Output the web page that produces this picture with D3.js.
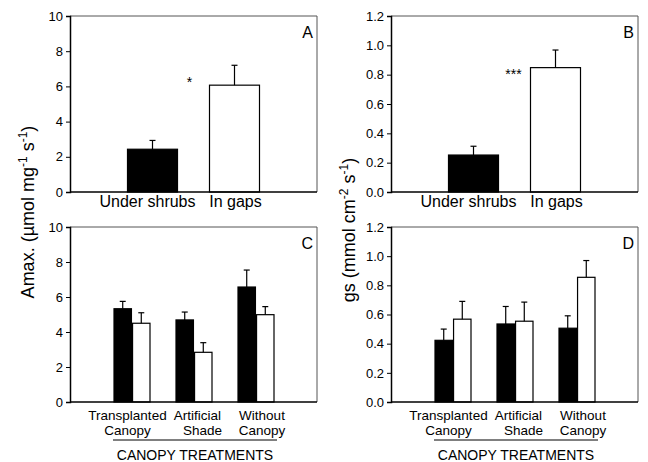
<!DOCTYPE html>
<html><head><meta charset="utf-8">
<script src="https://cdn.jsdelivr.net/npm/d3@7"></script>
<style>
body{margin:0;background:#fff;}
svg{display:block;font-family:Arial,"Liberation Sans",sans-serif;}
</style></head>
<body>
<svg id="chart" width="648" height="462"></svg>
<script>
// ---- data ----
const siteCats = ["Under shrubs", "In gaps"];
const amaxSite = [2.43, 6.07];
const amaxSiteErr = [0.50, 1.13];
const gsSite = [0.252, 0.848];
const gsSiteErr = [0.06, 0.12];

const treatments = ["Transplanted Canopy", "Artificial Shade", "Without Canopy"];
const treatmentLines = [["Transplanted", "Canopy"], ["Artificial", "Shade"], ["Without", "Canopy"]];
const amaxUnder = [5.33, 4.69, 6.57];
const amaxUnderErr = [0.42, 0.45, 0.97];
const amaxGaps = [4.50, 2.84, 4.99];
const amaxGapsErr = [0.60, 0.55, 0.46];
const gsUnder = [0.423, 0.535, 0.506];
const gsUnderErr = [0.077, 0.12, 0.085];
const gsGaps = [0.568, 0.554, 0.855];
const gsGapsErr = [0.122, 0.131, 0.115];

const amaxTicks = [0, 2, 4, 6, 8, 10];
const gsTicks = [0, 0.2, 0.4, 0.6, 0.8, 1.0, 1.2];
const panelLetters = ["A", "B", "C", "D"];
const sigMarks = ["*", "***"];

// ---- layout ----
const svg = d3.select("#chart");
const W = 247;
const lefts = [70, 391];
const rows = [{top: 16, bottom: 192}, {top: 227, bottom: 402}];

function frame(g, left, top, bottom) {
  g.append("line").attr("x1", left).attr("x2", left + W).attr("y1", top).attr("y2", top)
    .attr("stroke", "#555").attr("stroke-width", 1);
  g.append("line").attr("x1", left + W).attr("x2", left + W).attr("y1", top).attr("y2", bottom)
    .attr("stroke", "#555").attr("stroke-width", 1);
  g.append("line").attr("x1", left).attr("x2", left + W).attr("y1", bottom).attr("y2", bottom)
    .attr("stroke", "#000").attr("stroke-width", 1.5);
}

function yAxis(g, y, left, ticks, fmt) {
  const ax = g.append("g").attr("transform", `translate(${left},0)`)
    .call(d3.axisLeft(y).tickValues(ticks).tickFormat(fmt).tickSize(4).tickPadding(3));
  ax.select(".domain").attr("stroke", "#000").attr("stroke-width", 1.5);
  ax.selectAll(".tick line").attr("stroke", "#000");
  ax.selectAll("text").attr("font-size", 13).attr("fill", "#000")
    .attr("font-family", "Arial, 'Liberation Sans', sans-serif");
}

function errBar(g, x, yTop, yErr) {
  g.append("line").attr("x1", x).attr("x2", x).attr("y1", yTop).attr("y2", yErr)
    .attr("stroke", "#000").attr("stroke-width", 1.2);
  g.append("line").attr("x1", x - 3).attr("x2", x + 3).attr("y1", yErr).attr("y2", yErr)
    .attr("stroke", "#000").attr("stroke-width", 1.2);
}

// ---- top panels ----
function topPanel(idx, vals, errs, domainMax, ticks, fmt, sig, sigVal, sigDx) {
  const left = lefts[idx], top = rows[0].top, bottom = rows[0].bottom;
  const g = svg.append("g");
  const y = d3.scaleLinear().domain([0, domainMax]).range([bottom, top]);
  const x = d3.scalePoint().domain(siteCats).range([left + 82.5, left + 164.5]);
  const bw = 50;
  siteCats.forEach((c, i) => {
    g.append("rect").attr("x", x(c) - bw / 2).attr("width", bw)
      .attr("y", y(vals[i])).attr("height", y(0) - y(vals[i]))
      .attr("fill", i === 0 ? "#000" : "#fff").attr("stroke", "#000").attr("stroke-width", 1.2);
    errBar(g, x(c), y(vals[i]), y(vals[i] + errs[i]));
  });
  frame(g, left, top, bottom);
  yAxis(g, y, left, ticks, fmt);
  const labDx = [-5, 1];
  siteCats.forEach((c, i) => {
    g.append("text").attr("x", x(c) + labDx[i]).attr("y", 207).attr("text-anchor", "middle")
      .attr("font-size", 16).text(c);
  });
  g.append("text").attr("x", (x(siteCats[0]) + x(siteCats[1])) / 2 + sigDx).attr("y", y(sigVal))
    .attr("text-anchor", "middle").attr("font-size", 14).text(sig);
  g.append("text").attr("x", left + W - 4).attr("y", top + 22).attr("text-anchor", "end")
    .attr("font-size", 16).text(panelLetters[idx]);
}

topPanel(0, amaxSite, amaxSiteErr, 10, amaxTicks, d3.format("d"), sigMarks[0], 5.95, -4);
topPanel(1, gsSite, gsSiteErr, 1.2, gsTicks, d3.format(".1f"), sigMarks[1], 0.77, -1);

// ---- bottom panels ----
function bottomPanel(idx, under, underErr, gaps, gapsErr, domainMax, ticks, fmt) {
  const left = lefts[idx % 2], top = rows[1].top, bottom = rows[1].bottom;
  const g = svg.append("g");
  const y = d3.scaleLinear().domain([0, domainMax]).range([bottom, top]);
  const x = d3.scalePoint().domain(treatments).range([left + 62, left + 186]);
  const sub = d3.scaleBand().domain(["under", "gaps"]).range([-18, 18]).paddingInner(0.06);
  treatments.forEach((t, i) => {
    [["under", under[i], underErr[i], "#000"], ["gaps", gaps[i], gapsErr[i], "#fff"]].forEach(([k, v, e, f]) => {
      const bx = x(t) + sub(k);
      g.append("rect").attr("x", bx).attr("width", sub.bandwidth())
        .attr("y", y(v)).attr("height", y(0) - y(v))
        .attr("fill", f).attr("stroke", "#000").attr("stroke-width", 1.2);
      errBar(g, bx + sub.bandwidth() / 2, y(v), y(v + e));
    });
  });
  frame(g, left, top, bottom);
  yAxis(g, y, left, ticks, fmt);
  const lineDx = [[-4.5, -4.5], [3.5, 8.5], [6, 6]];
  treatments.forEach((t, i) => {
    treatmentLines[i].forEach((ln, j) => {
      g.append("text").attr("x", x(t) + lineDx[i][j]).attr("y", 419.5 + j * 15)
        .attr("text-anchor", "middle").attr("font-size", 13.5).text(ln);
    });
  });
  g.append("line").attr("x1", left + 43).attr("x2", left + 207).attr("y1", 440).attr("y2", 440)
    .attr("stroke", "#000").attr("stroke-width", 1);
  g.append("text").attr("x", left + 125).attr("y", 460).attr("text-anchor", "middle")
    .attr("font-size", 14).text("CANOPY TREATMENTS");
  g.append("text").attr("x", left + W - 4).attr("y", top + 22).attr("text-anchor", "end")
    .attr("font-size", 16).text(panelLetters[idx]);
}

bottomPanel(2, amaxUnder, amaxUnderErr, amaxGaps, amaxGapsErr, 10, amaxTicks, d3.format("d"));
bottomPanel(3, gsUnder, gsUnderErr, gsGaps, gsGapsErr, 1.2, gsTicks, d3.format(".1f"));

// ---- y axis titles ----
function yTitle(x, cy, parts) {
  const t = svg.append("text").attr("transform", `translate(${x},${cy}) rotate(-90)`)
    .attr("text-anchor", "middle").attr("font-size", 18);
  parts.forEach(p => {
    const s = t.append("tspan").text(p.t);
    if (p.sup) s.attr("font-size", 12).attr("dy", -7);
    if (p.after) s.attr("dy", 7);
  });
}
yTitle(34, 212, [
  {t: "Amax. (\u00b5mol mg"}, {t: "-1", sup: true}, {t: " s", after: true},
  {t: "-1", sup: true}, {t: ")", after: true}
]);
yTitle(355, 230, [
  {t: "gs (mmol cm"}, {t: "-2", sup: true}, {t: " s", after: true},
  {t: "-1", sup: true}, {t: ")", after: true}
]);
</script>
</body></html>
